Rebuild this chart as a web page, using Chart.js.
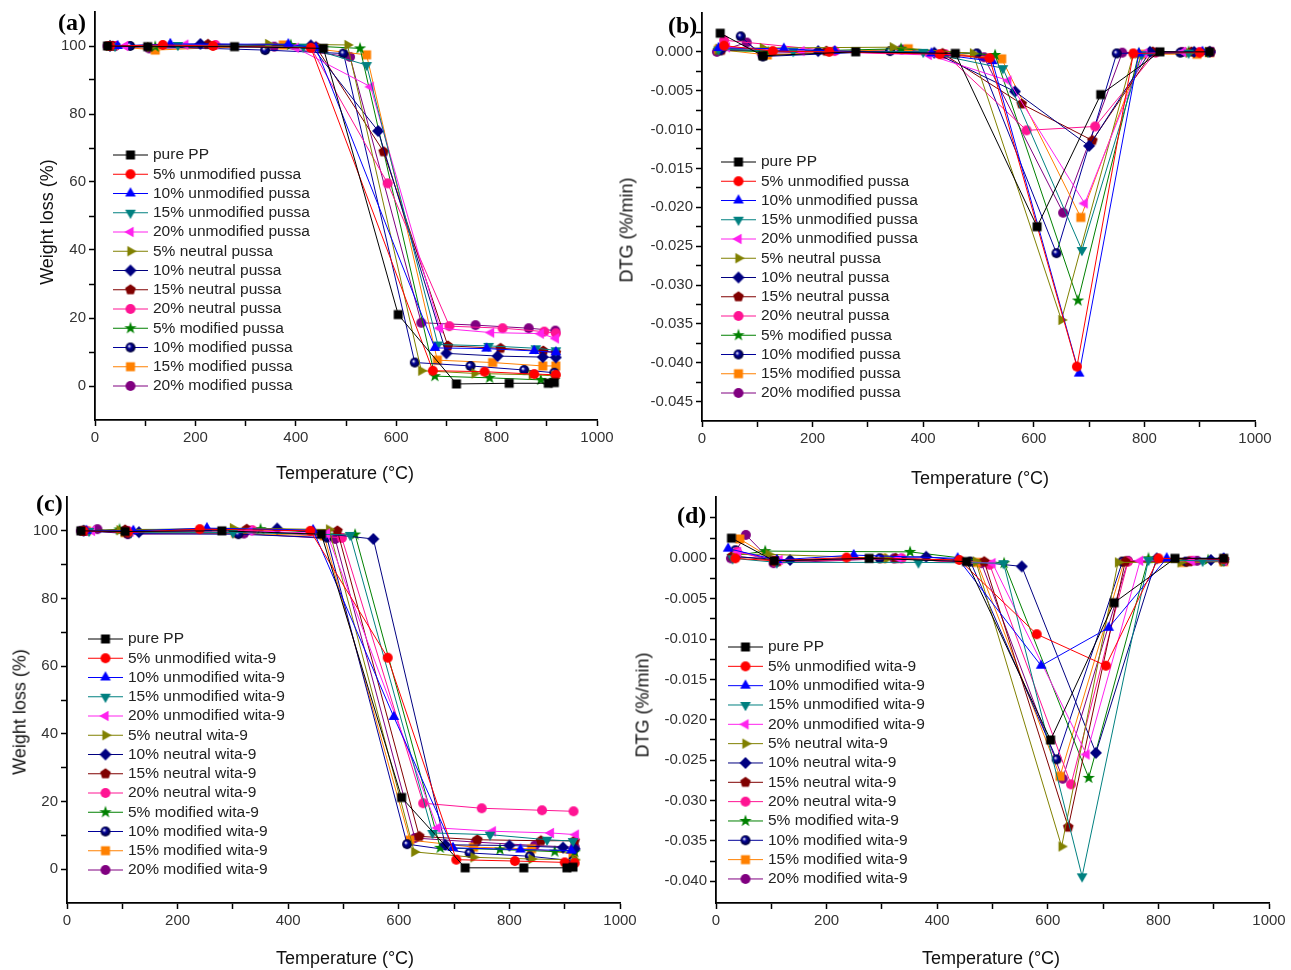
<!DOCTYPE html>
<html>
<head>
<meta charset="utf-8">
<script src="https://cdn.jsdelivr.net/npm/chart.js@4.4.1/dist/chart.umd.min.js"></script>
<style>
  body { margin: 0; background: #fff; width: 1291px; height: 970px; position: relative; overflow: hidden;
         font-family: "Liberation Sans", Arial, sans-serif; }
  .panel { position: absolute; }
  .lbl { position: absolute; font: bold 24px "Liberation Serif", "Times New Roman", serif; color: #000; line-height: 1; }
  .xt { position: absolute; font-size: 18px; color: #111; transform: translate(-50%, -50%); white-space: nowrap; }
  .yt { position: absolute; font-size: 18px; color: #111; transform: translate(-50%, -50%) rotate(-90deg); white-space: nowrap; }
</style>
</head>
<body>
<div class="panel" style="left:0;top:0;width:640px;height:485px"><canvas id="chartA"></canvas></div>
<div class="panel" style="left:640px;top:0;width:651px;height:485px"><canvas id="chartB"></canvas></div>
<div class="panel" style="left:0;top:485px;width:640px;height:485px"><canvas id="chartC"></canvas></div>
<div class="panel" style="left:640px;top:485px;width:651px;height:485px"><canvas id="chartD"></canvas></div>

<div class="lbl" style="left:58px;top:10px">(a)</div>
<div class="lbl" style="left:668px;top:13px">(b)</div>
<div class="lbl" style="left:36px;top:491px">(c)</div>
<div class="lbl" style="left:677px;top:503px">(d)</div>

<div class="yt" style="left:47px;top:222px">Weight loss (%)</div>
<div class="xt" style="left:345px;top:473px">Temperature (°C)</div>
<div class="yt" style="left:627px;top:230px">DTG (%/min)</div>
<div class="xt" style="left:980px;top:478px">Temperature (°C)</div>
<div class="yt" style="left:20px;top:712px">Weight loss (%)</div>
<div class="xt" style="left:345px;top:958px">Temperature (°C)</div>
<div class="yt" style="left:643px;top:705px">DTG (%/min)</div>
<div class="xt" style="left:991px;top:958px">Temperature (°C)</div>

<script>
// Tên các mẫu
const pussaLabels = ["pure PP", "5% unmodified pussa", "10% unmodified pussa", "15% unmodified pussa",
  "20% unmodified pussa", "5% neutral pussa", "10% neutral pussa", "15% neutral pussa", "20% neutral pussa",
  "5% modified pussa", "10% modified pussa", "15% modified pussa", "20% modified pussa"];
const witaLabels = ["pure PP", "5% unmodified wita-9", "10% unmodified wita-9", "15% unmodified wita-9",
  "20% unmodified wita-9", "5% neutral wita-9", "10% neutral wita-9", "15% neutral wita-9", "20% neutral wita-9",
  "5% modified wita-9", "10% modified wita-9", "15% modified wita-9", "20% modified wita-9"];

// Nhãn trục
const xTickLabels = [0, 200, 400, 600, 800, 1000];
const tgaTickLabels = [0, 20, 40, 60, 80, 100];
const dtgTickLabelsB = [0, -0.005, -0.01, -0.015, -0.02, -0.025, -0.03, -0.035, -0.04, -0.045];
const dtgTickLabelsD = [0, -0.005, -0.01, -0.015, -0.02, -0.025, -0.03, -0.035, -0.04];

// (a) TGA pussa: nhiệt độ và khối lượng
const pussaTgaT = [
  [25, 105, 278, 455, 604, 720, 825, 903, 915],
  [30, 135, 235, 430, 673, 776, 875, 918],
  [45, 150, 385, 440, 677, 780, 875, 918],
  [40, 165, 415, 541, 683, 784, 878, 918],
  [60, 180, 400, 549, 687, 789, 888, 918],
  [35, 110, 345, 503, 650, 756, 870, 915],
  [30, 210, 430, 564, 700, 802, 892, 918],
  [35, 225, 440, 575, 703, 808, 893, 918],
  [40, 240, 430, 583, 706, 812, 895, 918],
  [30, 120, 390, 528, 677, 786, 888, 915],
  [40, 70, 339, 495, 637, 748, 855, 915],
  [30, 120, 375, 541, 682, 792, 892, 918],
  [25, 108, 357, 508, 650, 758, 864, 917]
];
const pussaTgaW = [
  [100, 99.8, 99.8, 99.3, 21, 0.6, 0.8, 0.8, 1.0],
  [100, 100.3, 100, 99.5, 4.5, 4.2, 3.5, 3.3],
  [100, 100.6, 100.5, 99.5, 11.2, 11, 10.3, 9.9],
  [100, 100.3, 99.8, 94.4, 12.2, 11.8, 11.1, 10.5],
  [100, 100.4, 99.5, 88, 17, 15.7, 15.4, 14],
  [100, 99.7, 100.6, 100.3, 4.5, 3.7, 3.3, 3.0],
  [100, 100.6, 100.2, 75, 9.6, 8.8, 8.5, 8.4],
  [100, 100.5, 99.8, 68.9, 11.8, 11.1, 10.3, 9.8],
  [100, 100.3, 99.5, 59.6, 17.6, 17, 16, 15.5],
  [100, 99.8, 100.3, 99.3, 2.9, 2.4, 1.8, 1.8],
  [100, 100, 98.8, 97.8, 6.9, 5.9, 4.7, 3.9],
  [100, 98.8, 100.3, 97.4, 7.6, 6.9, 5.9, 5.9],
  [100, 99.3, 99.8, 96.8, 18.6, 17.9, 17, 16.3]
];

// (b) DTG pussa
const pussaDtgT = [
  [33, 110, 278, 458, 606, 721, 828, 918],
  [40, 128, 230, 430, 520, 678, 780, 900],
  [30, 148, 240, 415, 525, 682, 790, 905],
  [30, 165, 400, 544, 687, 795, 880, 915],
  [45, 180, 410, 554, 692, 800, 870, 920],
  [30, 110, 345, 490, 650, 780, 880, 915],
  [35, 210, 420, 566, 700, 810, 890, 918],
  [35, 225, 435, 578, 706, 815, 885, 918],
  [40, 240, 440, 587, 711, 820, 900, 918],
  [30, 120, 360, 530, 680, 790, 880, 918],
  [70, 110, 340, 497, 641, 750, 865, 918],
  [30, 118, 373, 542, 685, 795, 895, 918],
  [27, 81, 108, 361, 510, 653, 760, 868, 920]
];
const pussaDtgV = [
  [0.0024, -0.0005, 0, -0.0002, -0.0225, -0.0055, 0, 0],
  [0.0008, 0.0001, 0, -0.0003, -0.0008, -0.0405, -0.0002, -0.0001],
  [0.0005, 0.0004, 0.0001, -0.0002, -0.0012, -0.0414, -0.0002, 0],
  [0.0003, 0.0001, 0, -0.0021, -0.0255, -0.0003, -0.0001, 0],
  [0.0006, 0.0001, -0.0004, -0.0037, -0.0195, -0.0002, 0, 0],
  [0.0004, 0.0005, 0.0006, -0.0002, -0.0345, -0.0003, -0.0001, 0],
  [0.0003, 0.0001, -0.0001, -0.0051, -0.0121, 0, 0, 0],
  [0.0002, 0.0001, -0.0002, -0.0067, -0.0114, 0, 0, 0],
  [0.0015, 0.0001, -0.0003, -0.0101, -0.0096, -0.0001, 0, 0],
  [0.0002, 0, 0.0004, -0.0004, -0.032, -0.0002, 0, 0],
  [0.002, -0.0006, 0.0001, -0.0002, -0.0259, -0.0002, -0.0001, 0],
  [0.0003, -0.0004, 0.0004, -0.0009, -0.0213, -0.0003, -0.0003, -0.0001],
  [0, 0.0012, -0.0002, 0.0003, -0.0007, -0.0207, -0.0001, 0, 0]
];

// (c) TGA wita-9
const witaTgaT = [
  [25, 105, 280, 460, 605, 720, 826, 904, 915],
  [30, 110, 240, 440, 580, 704, 810, 900, 918],
  [35, 120, 253, 445, 591, 698, 820, 912],
  [40, 115, 300, 512, 661, 765, 868, 915],
  [45, 115, 330, 470, 670, 770, 875, 920],
  [30, 95, 300, 474, 628, 735, 840, 918],
  [30, 130, 380, 554, 684, 800, 897, 918],
  [30, 105, 325, 489, 637, 742, 857, 918],
  [35, 110, 335, 497, 644, 750, 859, 916],
  [30, 95, 350, 521, 675, 783, 882, 918],
  [30, 110, 310, 470, 615, 728, 837, 915],
  [35, 105, 305, 465, 620, 735, 840, 915],
  [25, 55, 110, 320, 485, 629, 739, 846, 918]
];
const witaTgaW = [
  [100, 99.8, 100, 99, 21.2, 0.4, 0.4, 0.4, 0.6],
  [100, 99.5, 100.5, 100, 62.5, 2.8, 2.4, 2, 1.8],
  [100, 100, 100.8, 100.2, 45, 6.3, 5.8, 5.5],
  [100, 99.6, 99.5, 98.8, 10.7, 10.2, 8.7, 8.3],
  [100, 99.8, 100, 99.2, 12.2, 11.2, 10.7, 10.2],
  [100, 100.2, 100.8, 100.4, 5.1, 3.5, 3, 2.8],
  [100, 99.6, 100.7, 97.6, 7.2, 7, 6.4, 6],
  [100, 100.3, 100.5, 100, 9.7, 8.7, 8.4, 8.4],
  [100, 100, 100.2, 97.9, 19.5, 18, 17.4, 17.1],
  [100, 100.4, 100.5, 98.9, 6.3, 5.8, 5.2, 5],
  [100, 99.2, 99, 98, 7.4, 4.8, 3.8, 2.5],
  [100, 99.5, 99.3, 98.5, 8.6, 6.5, 6, 4.5],
  [100, 100.5, 99, 99.2, 97.6, 9.2, 8, 7, 6.5]
];

// (d) DTG wita-9
const witaDtgT = [
  [28, 105, 277, 453, 605, 720, 830, 918],
  [35, 105, 236, 440, 580, 705, 800, 918],
  [22, 110, 249, 437, 588, 710, 815, 918],
  [30, 110, 366, 520, 662, 782, 880, 918],
  [40, 115, 330, 500, 670, 767, 860, 918],
  [35, 95, 310, 470, 625, 727, 840, 918],
  [35, 134, 380, 553, 687, 797, 895, 918],
  [30, 110, 325, 485, 637, 740, 855, 918],
  [38, 110, 336, 495, 642, 745, 860, 918],
  [30, 89, 351, 521, 674, 782, 890, 918],
  [35, 110, 296, 460, 616, 735, 850, 918],
  [43, 110, 301, 472, 622, 738, 845, 918],
  [27, 54, 104, 322, 480, 627, 745, 870, 918]
];
const witaDtgV = [
  [0.0025, -0.0003, 0, -0.0004, -0.0225, -0.0055, 0, 0],
  [0, -0.0003, 0.0001, -0.0002, -0.0094, -0.0133, 0, -0.0001],
  [0.0012, -0.0002, 0.0004, 0, -0.0133, -0.0086, 0, 0],
  [0, -0.0005, -0.0005, -0.0006, -0.0394, -0.0002, -0.0003, -0.0003],
  [0.0008, -0.0002, 0, -0.0006, -0.0243, -0.0003, -0.0003, -0.0003],
  [0.0005, 0.0005, 0, -0.0004, -0.0357, -0.0005, -0.0005, -0.0004],
  [0.0002, -0.0002, 0.0002, -0.001, -0.0241, 0, -0.0002, -0.0001],
  [0.0003, -0.0003, 0, -0.0004, -0.0333, -0.0004, -0.0004, -0.0003],
  [0.0008, -0.0004, 0, -0.0008, -0.028, -0.0004, -0.0003, -0.0003],
  [0.0003, 0.0009, 0.0008, -0.0006, -0.0272, 0, -0.0002, -0.0001],
  [0.001, -0.0004, 0, -0.0004, -0.0249, -0.0004, -0.0004, -0.0003],
  [0.0024, -0.0004, 0, -0.0005, -0.027, -0.0004, -0.0005, -0.0004],
  [0, 0.0029, -0.0006, 0, -0.0006, -0.0273, -0.0003, -0.0003, -0.0003]
];

// Màu và kiểu điểm cho từng mẫu
const colors = ["#000000", "#ff0000", "#0000ff", "#008080", "#ff22ee", "#808000", "#000080",
  "#800000", "#ff1493", "#008000", "#000099", "#ff8000", "#800080"];
const shapes = ["square", "circle", "triUp", "triDown", "triLeft", "triRight", "diamond",
  "pentagon", "circle", "star", "sphere", "square", "circle"];

function polygon(g, m, R, n, start) {
  for (let k = 0; k < n; k++) {
    const a = (start + k * 360 / n) * Math.PI / 180;
    const px = m + R * Math.cos(a), py = m + R * Math.sin(a);
    k === 0 ? g.moveTo(px, py) : g.lineTo(px, py);
  }
  g.closePath();
}

function marker(shape, color) {
  const s = 14, c = document.createElement("canvas");
  c.width = s; c.height = s;
  const g = c.getContext("2d");
  const m = s / 2;
  g.fillStyle = color;
  g.beginPath();
  if (shape === "square") g.rect(m - 4.5, m - 4.5, 9, 9);
  else if (shape === "circle") g.arc(m, m, 5, 0, Math.PI * 2);
  else if (shape === "sphere") {
    const grad = g.createRadialGradient(m - 1.5, m - 1.5, 0.3, m, m, 5);
    grad.addColorStop(0, "#ffffff");
    grad.addColorStop(0.35, color);
    grad.addColorStop(1, "#000033");
    g.fillStyle = grad;
    g.arc(m, m, 5, 0, Math.PI * 2);
  }
  else if (shape === "triUp") polygon(g, m, 6.2, 3, -90);
  else if (shape === "triDown") polygon(g, m, 6.2, 3, 90);
  else if (shape === "triLeft") polygon(g, m, 6.2, 3, 180);
  else if (shape === "triRight") polygon(g, m, 6.2, 3, 0);
  else if (shape === "diamond") polygon(g, m, 6, 4, -90);
  else if (shape === "pentagon") polygon(g, m, 5.6, 5, -90);
  else if (shape === "star") {
    for (let k = 0; k < 10; k++) {
      const a = (-90 + k * 36) * Math.PI / 180, R = k % 2 ? 2.6 : 6.5;
      const px = m + R * Math.cos(a), py = m + R * Math.sin(a);
      k === 0 ? g.moveTo(px, py) : g.lineTo(px, py);
    }
    g.closePath();
  }
  g.fill();
  return c;
}
const markers = shapes.map((sh, i) => marker(sh, colors[i]));

// Chú thích vẽ trong vùng biểu đồ
const inlineLegend = {
  id: "inlineLegend",
  afterDatasetsDraw(chart, args, opts) {
    const ctx = chart.ctx;
    ctx.save();
    ctx.font = '15.5px "Liberation Sans", Arial, sans-serif';
    ctx.textBaseline = "middle";
    chart.data.datasets.forEach((ds, i) => {
      const y = opts.y + i * opts.step;
      ctx.strokeStyle = ds.borderColor;
      ctx.lineWidth = 1;
      ctx.beginPath();
      ctx.moveTo(opts.x, y);
      ctx.lineTo(opts.x + opts.len, y);
      ctx.stroke();
      const img = ds.pointStyle;
      ctx.drawImage(img, opts.x + opts.len / 2 - img.width / 2, y - img.height / 2);
      ctx.fillStyle = "#222";
      ctx.fillText(ds.label, opts.x + opts.len + 5, y);
    });
    ctx.restore();
  }
};

// Vạch chia phụ nằm giữa các nhãn
function withMinors(labels, extra) {
  const out = labels.slice();
  for (let i = 0; i < labels.length - 1; i++) out.push((labels[i] + labels[i + 1]) / 2);
  return out.concat(extra || []);
}
const isLabel = (list, v) => list.some(l => Math.abs(l - v) < 1e-9);

function makeDatasets(labels, T, V) {
  return labels.map((lab, i) => ({
    label: lab,
    data: T[i].map((t, k) => ({ x: t, y: V[i][k] })),
    borderColor: colors[i],
    backgroundColor: colors[i],
    borderWidth: 1,
    pointStyle: markers[i],
    pointRadius: 5,
    tension: 0,
    fill: false
  }));
}

function makeChart(id, labels, T, V, cfg) {
  const font = { family: '"Liberation Sans", Arial, sans-serif', size: 15 };
  const xTicks = withMinors(xTickLabels);
  return new Chart(document.getElementById(id), {
    type: "line",
    data: { datasets: makeDatasets(labels, T, V) },
    options: {
      responsive: true,
      maintainAspectRatio: false,
      animation: false,
      layout: { padding: cfg.pad },
      plugins: { legend: { display: false }, tooltip: { enabled: false }, inlineLegend: cfg.legend },
      scales: {
        x: {
          type: "linear", min: 0, max: 1000,
          afterBuildTicks: s => { s.ticks = xTicks.map(v => ({ value: v })); },
          afterFit: s => { s.height = 30; },
          grid: { drawOnChartArea: false, tickLength: 6, tickColor: "#000", tickWidth: 1.5 },
          border: { color: "#000", width: 1.8 },
          ticks: { font, color: "#333", padding: 3, maxRotation: 0, autoSkip: false,
                   callback: v => isLabel(xTickLabels, v) ? String(v) : "" }
        },
        y: {
          type: "linear", min: cfg.ymin, max: cfg.ymax,
          afterBuildTicks: s => { s.ticks = cfg.yTicks.map(v => ({ value: v })); },
          afterFit: s => { s.width = 60; },
          grid: { drawOnChartArea: false, tickLength: 6, tickColor: "#000", tickWidth: 1.5 },
          border: { color: "#000", width: 1.8 },
          ticks: { font, color: "#333", padding: 3, autoSkip: false,
                   callback: v => isLabel(cfg.yLabels, v) ? cfg.fmt(v) : "" }
        }
      }
    },
    plugins: [inlineLegend]
  });
}

const fmtInt = v => String(Math.round(v));
const fmtDtg = v => (Math.abs(v) < 1e-9 ? 0 : v).toFixed(3);

makeChart("chartA", pussaLabels, pussaTgaT, pussaTgaW, {
  pad: { left: 35, right: 43, top: 12, bottom: 35 },
  ymin: -10, ymax: 110, yTicks: withMinors(tgaTickLabels), yLabels: tgaTickLabels, fmt: fmtInt,
  legend: { x: 113, y: 155, step: 19.25, len: 35 }
});
makeChart("chartB", pussaLabels, pussaDtgT, pussaDtgV, {
  pad: { left: 2, right: 36, top: 13, bottom: 34 },
  ymin: -0.0475, ymax: 0.005, yTicks: withMinors(dtgTickLabelsB, [0.0025]),
  yLabels: dtgTickLabelsB, fmt: fmtDtg,
  legend: { x: 81, y: 162, step: 19.25, len: 35 }
});
makeChart("chartC", witaLabels, witaTgaT, witaTgaW, {
  pad: { left: 7, right: 20, top: 9, bottom: 37 },
  ymin: -10, ymax: 110, yTicks: withMinors(tgaTickLabels), yLabels: tgaTickLabels, fmt: fmtInt,
  legend: { x: 88, y: 154, step: 19.25, len: 35 }
});
makeChart("chartD", witaLabels, witaDtgT, witaDtgV, {
  pad: { left: 16, right: 22, top: 8, bottom: 37 },
  ymin: -0.0427, ymax: 0.0076, yTicks: withMinors(dtgTickLabelsD, [0.0025, 0.005]),
  yLabels: dtgTickLabelsD, fmt: fmtDtg,
  legend: { x: 88, y: 162, step: 19.33, len: 35 }
});
</script>
</body>
</html>
